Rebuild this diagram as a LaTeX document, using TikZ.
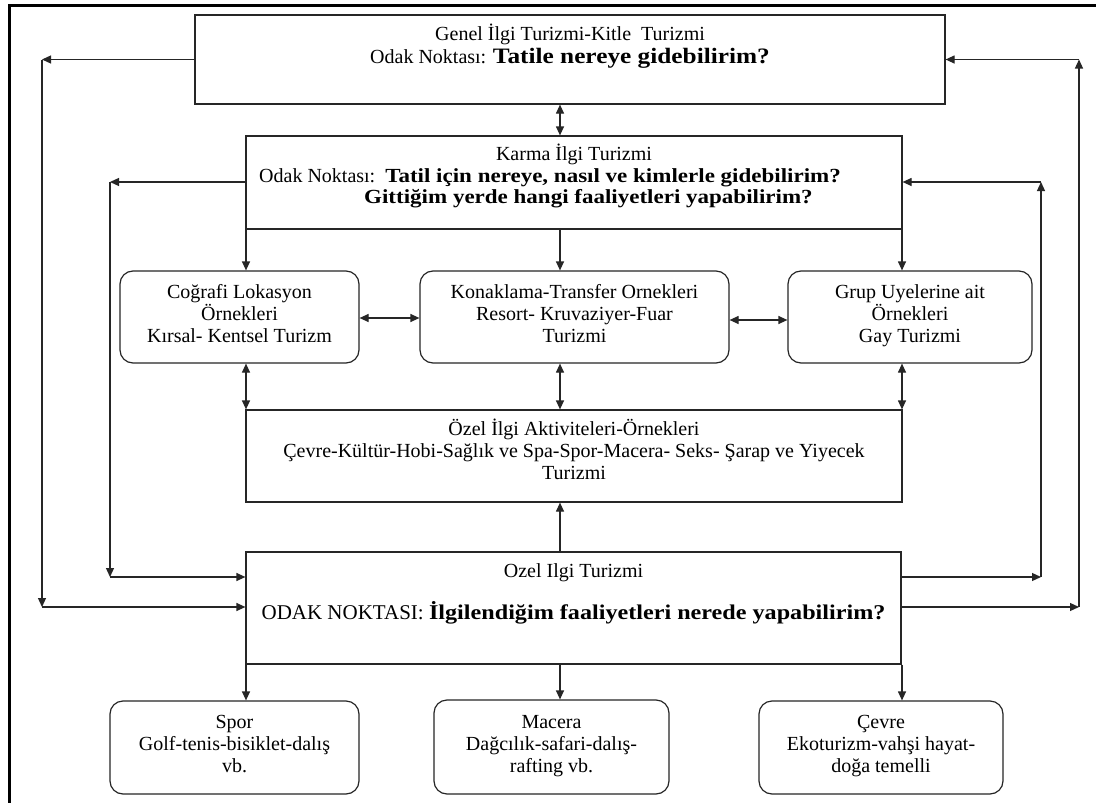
\documentclass[tikz,border=0pt]{standalone}
\usepackage{fontspec}
\setmainfont{Liberation Serif}[BoldFeatures={FakeStretch=1.15}]
\usetikzlibrary{arrows.meta}
\begin{document}
\begin{tikzpicture}[x=1pt,y=-1pt,
  box/.style={draw=black!85, line width=1.2pt, inner sep=0pt},
  rbox/.style={box, rounded corners=13pt},
  txt/.style={align=center, inner sep=0pt, anchor=base, font=\fontsize{20}{22}\selectfont},
  arr/.style={draw=black!85, line width=1.2pt, -{Triangle[length=9pt,width=8pt]}},
  darr/.style={draw=black!85, line width=1.2pt, {Triangle[length=9pt,width=8pt]}-{Triangle[length=9pt,width=8pt]}}]
\useasboundingbox (0,0) rectangle (1096,803);
\fill[white] (0,0) rectangle (1096,803);
\draw[line width=3pt] (1096,5) -- (9,5) -- (9,803);
% boxes
\node[box, minimum width=750pt, minimum height=89pt] (g) at (570,59.5) {};
\node[box, minimum width=656pt, minimum height=93pt] (k) at (574,182.5) {};
\node[rbox, minimum width=239pt, minimum height=92pt] (A) at (239.5,317) {};
\node[rbox, minimum width=309pt, minimum height=92pt] (B) at (574.5,317) {};
\node[rbox, minimum width=244pt, minimum height=92pt] (C) at (910,317) {};
\node[box, minimum width=656pt, minimum height=92pt] (oz) at (574,456) {};
\node[box, minimum width=655pt, minimum height=112pt] (o) at (573.5,608) {};
\node[rbox, minimum width=249pt, minimum height=93pt] (S) at (234.5,747.5) {};
\node[rbox, minimum width=235pt, minimum height=94pt] (M) at (551.5,747) {};
\node[rbox, minimum width=244pt, minimum height=93pt] (E) at (881,747.5) {};
% texts (base anchor = last line baseline)
\node[txt] (gt1) at (570,40) {Genel İlgi Turizmi-Kitle\ \ Turizmi};
\node[txt] (gt2) at (570,63) {Odak Noktası: {\fontsize{22}{24}\selectfont\textbf{Tatile nereye gidebilirim?}}};
\node[txt] (kt1) at (574,160) {Karma İlgi Turizmi};
\node[txt, anchor=base west] (kt2) at (259,182) {Odak Noktası:\ \ \textbf{Tatil için nereye, nasıl ve kimlerle gidebilirim?}};
\node[txt, anchor=base west] (kt3) at (364,203) {\textbf{Gittiğim yerde hangi faaliyetleri yapabilirim?}};
\node[txt] (At) at (239.5,342) {Coğrafi Lokasyon\\Örnekleri\\Kırsal- Kentsel Turizm};
\node[txt] (Bt) at (574.5,342) {Konaklama-Transfer Ornekleri\\Resort- Kruvaziyer-Fuar\\Turizmi};
\node[txt] (Ct) at (910,342) {Grup Uyelerine ait\\Örnekleri\\Gay Turizmi};
\node[txt] (ozt) at (574,479) {Özel İlgi Aktiviteleri-Örnekleri\\Çevre-Kültür-Hobi-Sağlık ve Spa-Spor-Macera- Seks- Şarap ve Yiyecek\\Turizmi};
\node[txt] (ot1) at (573.5,577) {Ozel Ilgi Turizmi};
\node[txt, font=\fontsize{21}{23}\selectfont] (ot2) at (573.5,619) {ODAK NOKTASI: \textbf{İlgilendiğim faaliyetleri nerede yapabilirim?}};
\node[txt] (St) at (234.5,772) {Spor\\Golf-tenis-bisiklet-dalış\\vb.};
\node[txt] (Mt) at (551.5,772) {Macera\\Dağcılık-safari-dalış-\\rafting vb.};
\node[txt] (Et) at (881,772) {Çevre\\Ekoturizm-vahşi hayat-\\doğa temelli};
% helper coordinates
\coordinate (xl) at (246,0);
\coordinate (xc) at (560,0);
\coordinate (xr) at (902,0);
\coordinate (yab) at (0,318);
\coordinate (ybc) at (0,320);
\coordinate (lo1) at (42,59.5);
\coordinate (lo2) at (42,607);
\coordinate (li1) at (110,182);
\coordinate (li2) at (110,577);
\coordinate (ri1) at (1041,182);
\coordinate (ri2) at (1041,577);
\coordinate (ro1) at (1079,59.5);
\coordinate (ro2) at (1079,607);
% connectors
\draw[darr] (g.south -| xc) -- (k.north -| xc);
\draw[arr] (k.south -| xl) -- (A.north -| xl);
\draw[arr] (k.south -| xc) -- (B.north -| xc);
\draw[arr] (k.south -| xr) -- (C.north -| xr);
\draw[darr] (A.east |- yab) -- (B.west |- yab);
\draw[darr] (B.east |- ybc) -- (C.west |- ybc);
\draw[darr] (A.south -| xl) -- (oz.north -| xl);
\draw[darr] (B.south -| xc) -- (oz.north -| xc);
\draw[darr] (C.south -| xr) -- (oz.north -| xr);
\draw[arr] (o.north -| xc) -- (oz.south -| xc);
\draw[arr] (o.south -| xl) -- (S.north -| xl);
\draw[arr] (o.south -| xc) -- (M.north -| xc);
\draw[arr] (o.south -| xr) -- (E.north -| xr);
% loops
\draw[arr] (g.west) -- (lo1);
\draw[arr] (lo1) -- (lo2);
\draw[arr] (lo2) -- (o.west |- lo2);
\draw[arr] (k.west |- li1) -- (li1);
\draw[arr] (li1) -- (li2);
\draw[arr] (li2) -- (o.west |- li2);
\draw[arr] (o.east |- ri2) -- (ri2);
\draw[arr] (ri2) -- (ri1);
\draw[arr] (ri1) -- (k.east |- ri1);
\draw[arr] (o.east |- ro2) -- (ro2);
\draw[arr] (ro2) -- (ro1);
\draw[arr] (ro1) -- (g.east);
\end{tikzpicture}
\end{document}
